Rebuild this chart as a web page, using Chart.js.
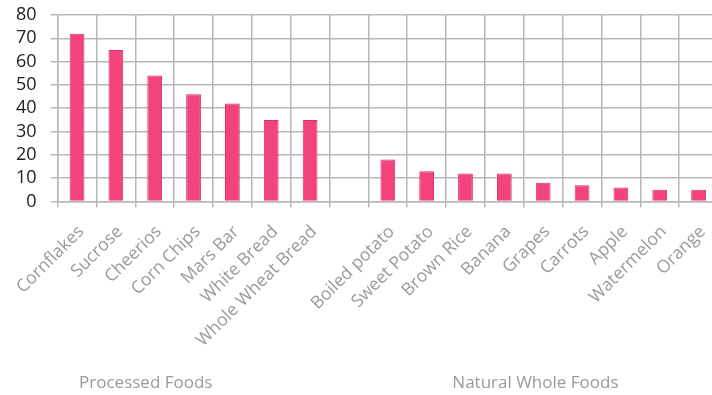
<!DOCTYPE html>
<html>
<head>
<meta charset="utf-8">
<script src="https://cdn.jsdelivr.net/npm/chart.js@4/dist/chart.umd.min.js"></script>
<style>
html,body{margin:0;padding:0;background:#fff;overflow:hidden}
</style>
</head>
<body>
<canvas id="chart" width="720" height="395"></canvas>
<script>
// glycemic index values
const foods=["Cornflakes","Sucrose","Cheerios","Corn Chips","Mars Bar","White Bread","Whole Wheat Bread","",
"Boiled potato","Sweet Potato","Brown Rice","Banana","Grapes","Carrots","Apple","Watermelon","Orange"]
const giValues=[72,65,54,46,42,35,35,null,18,13,12,12,8,7,6,5,5]
const yTicks=[0,10,20,30,40,50,60,70,80]
const groupNames=["Processed Foods","Natural Whole Foods"]
const groupAt=[1.77,11.8]

const groupLabels={
id:"groupLabels",
afterDraw(chart){
const ctx=chart.ctx
const x=chart.scales.x
ctx.save()
ctx.font="17px 'Open Sans'"
ctx.fillStyle="#9a9a9a"
ctx.textAlign="center"
ctx.textBaseline="middle"
groupNames.forEach((name,i)=>{
ctx.fillText(name,x.getPixelForValue(groupAt[i]),chart.height-12)
})
ctx.restore()
}
}

new Chart(document.getElementById("chart"),{
type:"bar",
data:{
labels:foods,
datasets:[{
data:giValues,
backgroundColor:"#f2437a",
borderColor:"#d8336a",
borderWidth:1,
barPercentage:0.38,
categoryPercentage:1
}]
},
options:{
responsive:false,
animation:false,
layout:{padding:{left:2,top:15,right:2,bottom:30}},
plugins:{legend:{display:false},tooltip:{enabled:false}},
scales:{
x:{
afterFit(axis){axis.paddingLeft=0;axis.paddingRight=0},
grid:{color:"#b8b8b8",lineWidth:1.5,tickLength:6,offset:true},
border:{color:"#b8b8b8",width:1.5},
ticks:{
color:"#9a9a9a",
font:{family:"'Open Sans'",size:17.5},
minRotation:45,maxRotation:45,autoSkip:false,padding:14,labelOffset:4
}
},
y:{
min:0,max:80,
afterBuildTicks(axis){axis.ticks=yTicks.map(v=>({value:v}))},
afterFit(axis){axis.paddingTop=0},
grid:{color:"#b8b8b8",lineWidth:1.5,tickLength:7},
border:{color:"#b8b8b8",width:1.5},
ticks:{color:"#222",font:{family:"'Open Sans'",size:18},padding:14,autoSkip:false}
}
}
},
plugins:[groupLabels]
})
</script>
</body>
</html>
